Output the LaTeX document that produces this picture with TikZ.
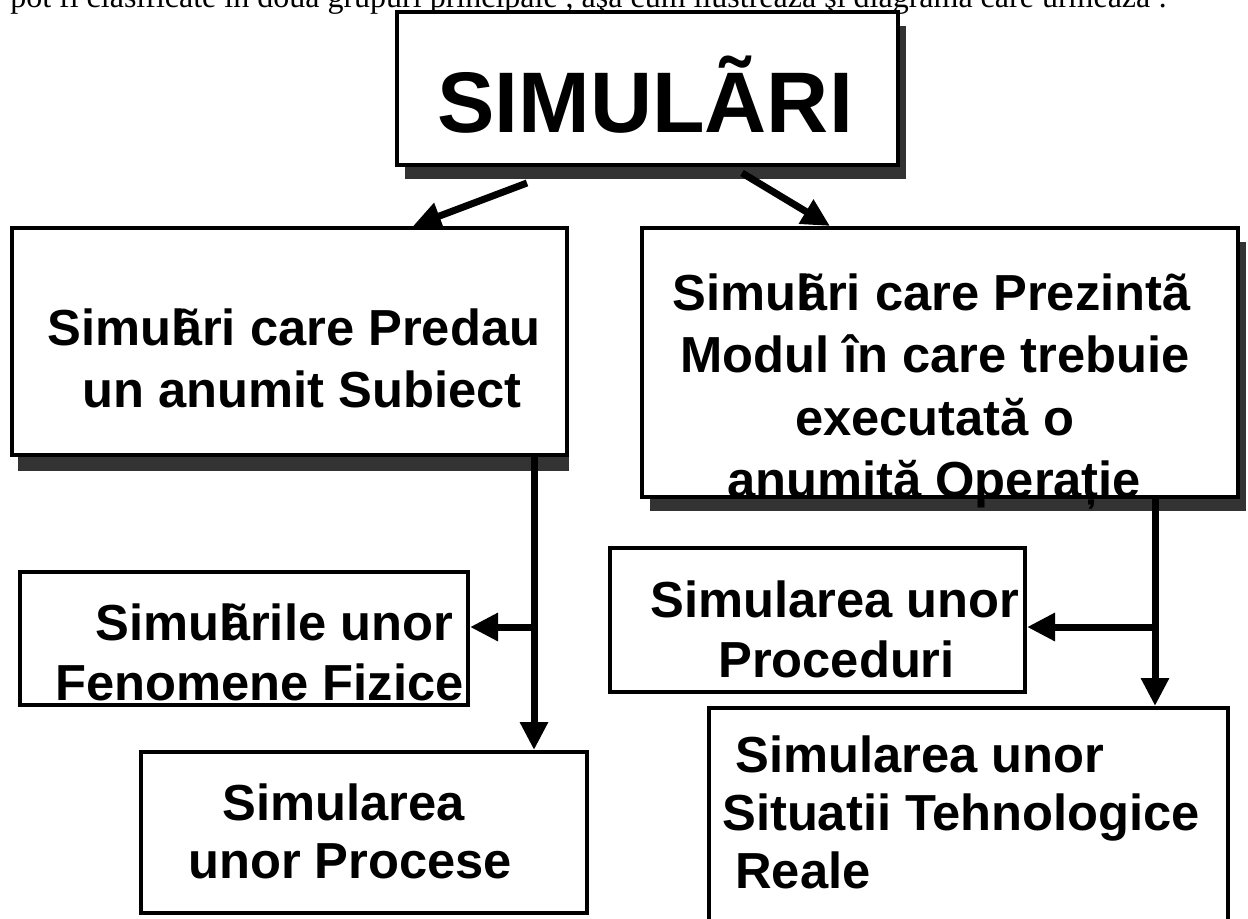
\documentclass[tikz,border=0pt]{standalone}
\usepackage{fontspec}
\setmainfont{Liberation Sans}
\newfontfamily\bodyserif{Liberation Serif}
\usetikzlibrary{arrows.meta,fit,shadows,backgrounds,calc}
\definecolor{shadowgray}{HTML}{333333}
% slight overlap of the accented letter, as set in the source
\newcommand\tuck{\kern-.22em}
\begin{document}
\begin{tikzpicture}[x=0.75pt,y=-0.75pt,
  box/.style={draw=black, line width=3pt, fill=white, inner sep=0pt},
  shbox/.style={box, drop shadow={shadow xshift=6pt, shadow yshift=-10.5pt,
                fill=shadowgray, opacity=1}},
  lbl/.style={font=\fontsize{38}{46}\selectfont\bfseries, inner sep=0pt, anchor=base west},
  conn/.style={line width=5.25pt, -{Triangle[length=21pt,width=20pt]}}]
\useasboundingbox (0,0) rectangle (1248,918);
\clip (0,0) rectangle (1248,918);

% running text above the diagram
\node[font=\bodyserif\fontsize{24}{28}\selectfont, inner sep=0pt, anchor=base west]
  (intro) at (10,7) {pot fi clasificate în două grupuri principale , aşa cum ilustrează şi diagrama care urmează :};

% boxes
\node[shbox, fit={(397,12) (898,165)}] (top) {};
\node[box, fit={(12,228) (567,455)}] (b1) {};
\node[shbox, fit={(642,228) (1238,497)}] (b2) {};
\node[box, fit={(20,572) (468,705)}] (b3) {};
\node[box, fit={(141,752) (587,913)}] (b4) {};
\node[box, fit={(610,548) (1025,692)}] (b5) {};
\node[box, fit={(709,708) (1228,935)}] (b6) {};

% shadow of the left box runs below it only
\begin{scope}[on background layer]
  \fill[shadowgray] ($(b1.north west)+(8,14)$) rectangle ($(b1.south east)+(0,14)$);
\end{scope}

% texts
\node[lbl, font=\fontsize{64.5}{70}\selectfont\bfseries] (ttop) at (437,132) {SIMULÃRI};

\node[lbl] (t1a) at (47,345) {Simul\tuck ãri care Predau};
\node[lbl] (t1b) at (82,407) {un anumit Subiect};

\node[lbl] (t2a) at (672,310) {Simul\tuck ãri care Prezintã};
\node[lbl] (t2b) at (680,372) {Modul în care trebuie};
\node[lbl] (t2c) at (795,435) {executată o};
\node[lbl] (t2d) at (727,497) {anumită Operație};

\node[lbl] (t3a) at (95,640) {Simul\tuck ãrile unor};
\node[lbl] (t3b) at (55,700) {Fenomene Fizice};

\node[lbl] (t4a) at (222,820) {Simularea};
\node[lbl] (t4b) at (188,878) {unor Procese};

\node[lbl] (t5a) at (650,617) {Simularea unor};
\node[lbl] (t5b) at (718,677) {Proceduri};

\node[lbl] (t6a) at (735,772) {Simularea unor};
\node[lbl] (t6b) at (722,830) {Situatii Tehnologice};
\node[lbl] (t6c) at (735,888) {Reale};

% connector guides
\coordinate (d1) at (527,183);
\coordinate (d1e) at (413,0);
\coordinate (d2) at (742,173);
\coordinate (d2e) at (830,0);
\coordinate (lx) at (534,0);
\coordinate (rx) at (1155,0);
\coordinate (by) at (0,627);

% connectors
\draw[conn] (d1) -- (d1e |- b1.north);
\draw[conn] (d2) -- (d2e |- b2.north);
\draw[conn] (lx |- b1.south) -- (lx |- b4.north);
\draw[conn] (lx |- by) -- (b3.east |- by);
\draw[conn] (rx |- b2.south) -- (rx |- b6.north);
\draw[conn] (rx |- by) -- (b5.east |- by);
\end{tikzpicture}
\end{document}
